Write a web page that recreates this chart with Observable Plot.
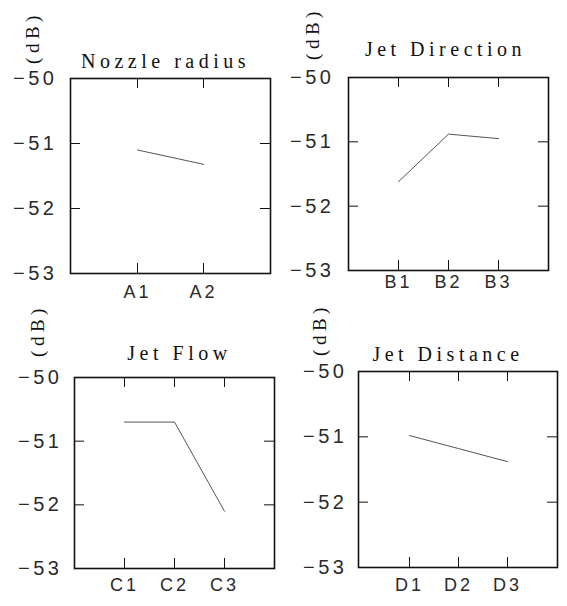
<!DOCTYPE html>
<html>
<head>
<meta charset="utf-8">
<script src="https://cdn.jsdelivr.net/npm/d3@7"></script>
<script src="https://cdn.jsdelivr.net/npm/@observablehq/plot@0.6"></script>
<style>
  html, body { margin: 0; padding: 0; background: #fff; }
  #root { position: relative; width: 567px; height: 606px; background: #fff; }
  .panel { position: absolute; }
  g[aria-label="text"] text { letter-spacing: 4.5px; }
  g[aria-label="y-axis tick label"] text { letter-spacing: 3.5px; }
  g[aria-label="x-axis tick label"] text { letter-spacing: 3px; }
</style>
</head>
<body>
<div id="root"></div>
<script>
// ---- data ----
const yLabel = "(dB)";
const yTicks = [-50, -51, -52, -53];

const nozzleTitle = "Nozzle radius";
const nozzleLevels = ["A1", "A2"];
const nozzleValues = [-51.1, -51.32];

const directionTitle = "Jet Direction";
const directionLevels = ["B1", "B2", "B3"];
const directionValues = [-51.62, -50.88, -50.95];

const flowTitle = "Jet Flow";
const flowLevels = ["C1", "C2", "C3"];
const flowValues = [-50.7, -50.7, -52.1];

const distanceTitle = "Jet Distance";
const distanceLevels = ["D1", "D2", "D3"];
const distanceValues = [-50.98, -51.18, -51.38];

// ---- layout (positions/styles only) ----
const layouts = [
  {left: 0,   top: 0,   w: 283, h: 303, mL: 70, mR: 13, mT: 78, mB: 30, tdx: -5,  tdy: -11, ldx: -38, ldy: -41, xpad: 12, ypad: 14},
  {left: 283, top: 0,   w: 284, h: 303, mL: 65, mR: 19, mT: 77, mB: 33, tdx: -3,  tdy: -22, ldx: -36, ldy: -44, xpad: 5,  ypad: 15},
  {left: 0,   top: 303, w: 283, h: 303, mL: 74, mR: 9,  mT: 74, mB: 38, tdx: 5,   tdy: -18, ldx: -37, ldy: -47, xpad: 10, ypad: 13},
  {left: 283, top: 303, w: 284, h: 303, mL: 75, mR: 10, mT: 68, mB: 39, tdx: -10, tdy: -11, ldx: -39, ldy: -42, xpad: 11, ypad: 12}
];

const series = [
  {title: nozzleTitle, levels: nozzleLevels, values: nozzleValues},
  {title: directionTitle, levels: directionLevels, values: directionValues},
  {title: flowTitle, levels: flowLevels, values: flowValues},
  {title: distanceTitle, levels: distanceLevels, values: distanceValues}
];

const sans = "Liberation Sans, Arial, sans-serif";
const serif = "Liberation Serif, Times New Roman, serif";
const TICK = 10;
const fmt = d3.format("d");

const root = document.getElementById("root");

series.forEach((s, i) => {
  const L = layouts[i];
  const fw = L.w - L.mL - L.mR;
  const fh = L.h - L.mT - L.mB;
  const rows = s.levels.map((lv, j) => ({level: lv, value: s.values[j]}));
  const chart = Plot.plot({
    width: L.w,
    height: L.h,
    marginLeft: L.mL,
    marginRight: L.mR,
    marginTop: L.mT,
    marginBottom: L.mB,
    style: {background: "#fff", color: "#111", overflow: "visible"},
    x: {type: "point", domain: s.levels, padding: 1, axis: null, label: null},
    y: {domain: [-53, -50], axis: null, label: null},
    marks: [
      // tick labels (left, bottom)
      Plot.axisY(yTicks, {anchor: "left", tickSize: 0, tickPadding: L.ypad - 1, tickFormat: fmt, label: null,
        fontFamily: sans, fontSize: 20, fill: "#2a2a2a"}),
      Plot.axisX(s.levels, {anchor: "bottom", tickSize: 0, tickPadding: L.xpad, label: null,
        fontFamily: sans, fontSize: 18, fill: "#2a2a2a"}),
      // inward ticks on all four sides
      Plot.tickY(yTicks, {y: d => d, insetRight: fw - TICK, stroke: "#111"}),
      Plot.tickY(yTicks, {y: d => d, insetLeft: fw - TICK, stroke: "#111"}),
      Plot.tickX(s.levels, {x: d => d, insetBottom: fh - TICK, stroke: "#111"}),
      Plot.tickX(s.levels, {x: d => d, insetTop: fh - TICK, stroke: "#111"}),
      Plot.frame({stroke: "#111", strokeWidth: 1.6}),
      Plot.line(rows, {x: "level", y: "value", stroke: "#555", strokeWidth: 1}),
      Plot.text([s.title], {text: d => d, frameAnchor: "top", dx: L.tdx, dy: L.tdy, lineAnchor: "bottom",
        fontFamily: serif, fontSize: 20, fill: "#111"}),
      Plot.text([yLabel], {text: d => d, frameAnchor: "top-left", dx: L.ldx, dy: L.ldy, rotate: -90,
        textAnchor: "middle", lineAnchor: "middle", fontFamily: serif, fontSize: 19, fill: "#111"})
    ]
  });
  const div = document.createElement("div");
  div.className = "panel";
  div.style.left = L.left + "px";
  div.style.top = L.top + "px";
  div.appendChild(chart);
  root.appendChild(div);
});
</script>
</body>
</html>
